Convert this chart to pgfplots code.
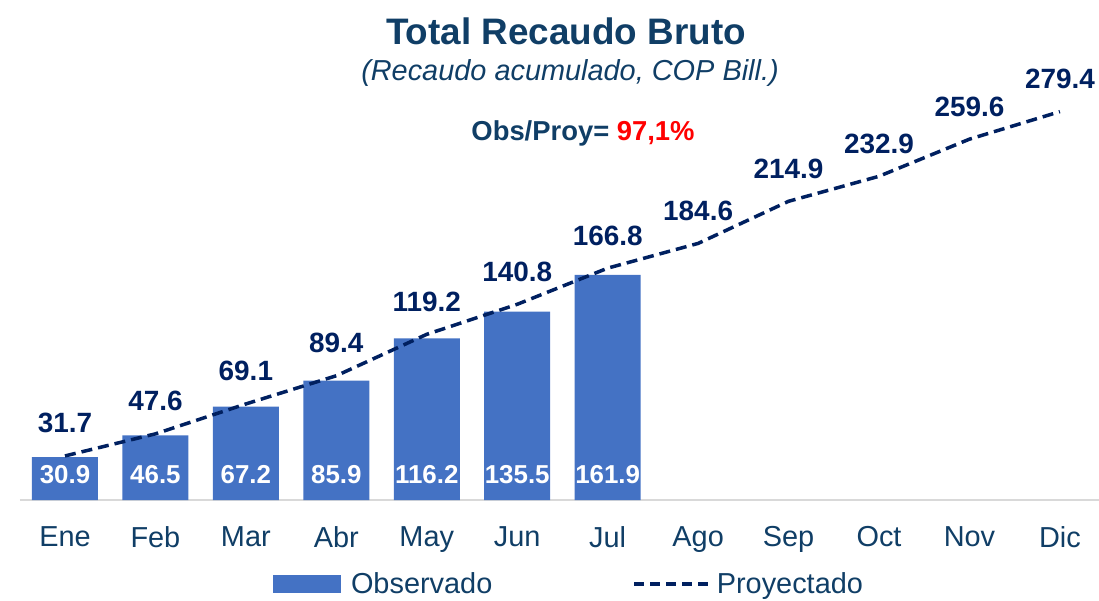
\documentclass[border=0pt]{standalone}
\usepackage{fontspec}
\setmainfont{Liberation Sans}
\usepackage{pgfplots}
\pgfplotsset{compat=1.18}
\usepackage{pgfplotstable}
\definecolor{barblue}{RGB}{68,114,196}
\definecolor{navy}{RGB}{0,32,96}
\definecolor{titleblue}{RGB}{16,62,102}
\definecolor{axgray}{RGB}{217,217,217}
\definecolor{obsred}{RGB}{255,0,0}

\pgfplotstableread{
x obs
0 30.9
1 46.5
2 67.2
3 85.9
4 116.2
5 135.5
6 161.9
}\obsdata

\pgfplotstableread{
x proj
0 31.7
1 47.6
2 69.1
3 89.4
4 119.2
5 140.8
6 166.8
7 184.6
8 214.9
9 232.9
10 259.6
11 279.4
}\projdata

\begin{document}
\begin{tikzpicture}
\begin{axis}[
  at={(19.75bp,-500bp)}, anchor=south west,
  scale only axis, width=1085.4bp, height=417bp,
  xmin=-0.5, xmax=11.5, ymin=0, ymax=300,
  axis x line=bottom, axis y line=none,
  x axis line style={axgray, line width=2bp, -},
  xtick={0,...,11},
  xticklabels={Ene,Feb,Mar,Abr,May,Jun,Jul,Ago,Sep,Oct,Nov,Dic},
  major tick length=0pt,
  xticklabel style={font=\fontsize{29}{30}\selectfont, text=titleblue, inner sep=0pt, yshift=-26bp},
  ytick=\empty,
  clip=false,
  legend columns=2,
  legend style={at={(549.25bp,-84bp)}, anchor=center, draw=none, fill=none,
    font=\fontsize{29}{30}\selectfont, text=titleblue,
    /tikz/every even column/.append style={column sep=138bp}},
]
\addplot[ybar, bar width=66bp, fill=barblue, draw=none,
  legend image code/.code={\fill[barblue] (0bp,-9bp) rectangle (68bp,9bp); \path (76bp,0bp);}]
  table[x=x, y=obs] {\obsdata};
\addlegendentry{Observado}

\addplot[navy, line width=3.5bp, dash pattern=on 11bp off 6bp, mark=none,
  nodes near coords, point meta=explicit symbolic,
  every node near coord/.append style={font=\bfseries\fontsize{28}{30}\selectfont, text=navy, inner sep=0pt, anchor=south, yshift=21bp},
  legend image code/.code={\draw[navy, line width=3.5bp, dash pattern=on 10bp off 6bp] (0bp,0bp) -- (75bp,0bp); \path (79bp,0bp);}]
  table[x=x, y=proj, meta=proj] {\projdata};
\addlegendentry{Proyectado}

\addplot[draw=none, mark=none, forget plot,
  nodes near coords, point meta=explicit symbolic,
  every node near coord/.append style={font=\bfseries\fontsize{26}{27}\selectfont, text=white, inner sep=0pt, anchor=south, yshift=16bp}]
  table[x=x, y expr=0, meta=obs] {\obsdata};
\end{axis}

\node[anchor=base, font=\bfseries\fontsize{37}{40}\selectfont, text=titleblue] at (566bp,-44bp) {Total Recaudo Bruto};
\node[anchor=base, font=\itshape\fontsize{29}{30}\selectfont, text=titleblue] at (570bp,-80bp) {(Recaudo acumulado, COP Bill.)};
\node[anchor=base, font=\bfseries\fontsize{27.5}{30}\selectfont, text=titleblue] at (583bp,-140bp) {Obs/Proy= \textcolor{obsred}{97,1\%}};

\pgfresetboundingbox
\path (0bp,0bp) rectangle (1099bp,-601bp);
\end{tikzpicture}
\end{document}
